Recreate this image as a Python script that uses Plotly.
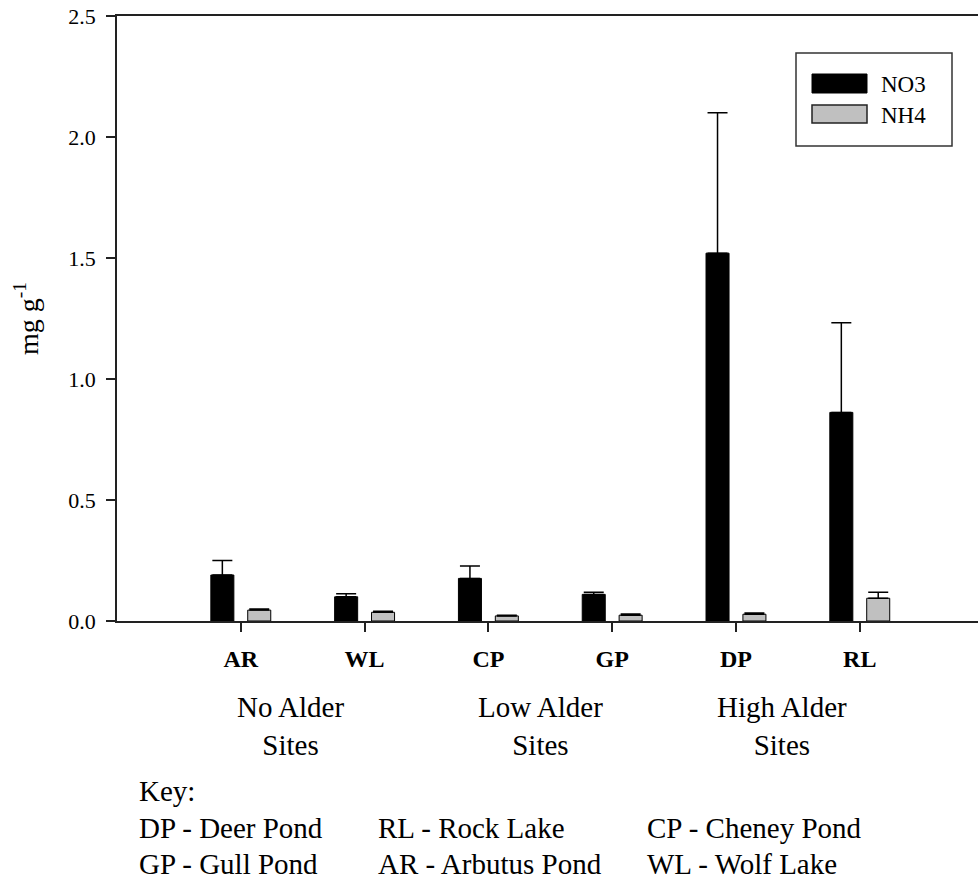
import plotly.graph_objects as go

# ---- data ----
sites = ["AR", "WL", "CP", "GP", "DP", "RL"]
no3_mean = [0.19, 0.100, 0.176, 0.110, 1.52, 0.862]
no3_err = [0.060, 0.013, 0.051, 0.009, 0.58, 0.370]
nh4_mean = [0.045, 0.036, 0.021, 0.024, 0.028, 0.094]
nh4_err = [0.005, 0.004, 0.003, 0.005, 0.005, 0.025]
series_names = ["NO3", "NH4"]
y_ticks = [0.0, 0.5, 1.0, 1.5, 2.0, 2.5]
group_labels = ["No Alder<br>Sites", "Low Alder<br>Sites", "High Alder<br>Sites"]
key_title = "Key:"
key_rows = [["DP - Deer Pond", "RL - Rock Lake", "CP - Cheney Pond"],
            ["GP - Gull Pond", "AR - Arbutus Pond", "WL - Wolf Lake"]]

W, H = 978, 883
L, R, T, B = 117, 0, 16, 262
FONT = "Liberation Serif, Times New Roman, Times, serif"
plot_w = W - L - R
plot_h = H - T - B


def px(x):
    return (x - L) / plot_w


def py(y):
    return (H - B - y) / plot_h


fig = go.Figure()
fig.add_trace(go.Bar(
    x=sites, y=no3_mean, name=series_names[0], showlegend=False,
    marker=dict(color="black", line=dict(color="black", width=1)),
    error_y=dict(type="data", array=no3_err, arrayminus=[0] * len(sites),
                 symmetric=False, color="black", thickness=1.5, width=10),
))
fig.add_trace(go.Bar(
    x=sites, y=nh4_mean, name=series_names[1], showlegend=False,
    marker=dict(color="#c0c0c0", line=dict(color="black", width=1)),
    error_y=dict(type="data", array=nh4_err, arrayminus=[0] * len(sites),
                 symmetric=False, color="black", thickness=1.5, width=10),
))

# legend box drawn manually
shapes = [
    dict(type="rect", xref="paper", yref="paper", x0=px(796), x1=px(952),
         y0=py(146), y1=py(53), line=dict(color="#333", width=1.5), fillcolor="white"),
    dict(type="rect", xref="paper", yref="paper", x0=px(812), x1=px(867),
         y0=py(93), y1=py(74), line=dict(color="black", width=1), fillcolor="black"),
    dict(type="rect", xref="paper", yref="paper", x0=px(812), x1=px(867),
         y0=py(123), y1=py(105), line=dict(color="#222", width=1.5), fillcolor="#c0c0c0"),
]
annotations = [
    dict(text=series_names[0], xref="paper", yref="paper", x=px(879), y=py(84),
         xanchor="left", yanchor="middle", showarrow=False,
         font=dict(family=FONT, size=23, color="black")),
    dict(text=series_names[1], xref="paper", yref="paper", x=px(879), y=py(115),
         xanchor="left", yanchor="middle", showarrow=False,
         font=dict(family=FONT, size=23, color="black")),
]
for lbl, cx in zip(group_labels, [290, 540, 782]):
    annotations.append(dict(text=lbl, xref="paper", yref="paper", x=px(cx), y=py(726),
                            xanchor="center", yanchor="middle", showarrow=False,
                            font=dict(family=FONT, size=29, color="black")))
annotations.append(dict(text=key_title, xref="paper", yref="paper", x=px(137), y=py(791),
                        xanchor="left", yanchor="middle", showarrow=False,
                        font=dict(family=FONT, size=29, color="black")))
col_x = [137, 376, 645]
row_y = [828, 864]
for r, row in enumerate(key_rows):
    for c, txt in enumerate(row):
        annotations.append(dict(text=txt, xref="paper", yref="paper", x=px(col_x[c]), y=py(row_y[r]),
                                xanchor="left", yanchor="middle", showarrow=False,
                                font=dict(family=FONT, size=29, color="black")))

fig.update_layout(
    width=W, height=H,
    margin=dict(l=L, r=R, t=T, b=B, pad=0),
    paper_bgcolor="white", plot_bgcolor="white",
    barmode="group", bargap=0.404, bargroupgap=0.376,
    font=dict(family=FONT, color="black"),
    shapes=shapes, annotations=annotations,
    showlegend=False,
)
fig.update_xaxes(
    range=[-1, 5.955], showline=True, linecolor="#222", linewidth=1.5, mirror=True,
    ticks="outside", ticklen=9, tickwidth=1.5, tickcolor="#222",
    tickfont=dict(family=FONT, size=24, color="black", weight="bold"),
    ticklabelstandoff=6, showgrid=False, zeroline=False,
)
fig.update_yaxes(
    range=[0, 2.5], tickvals=y_ticks, tickformat=".1f",
    showline=True, linecolor="#222", linewidth=1.5,
    ticks="outside", ticklen=9, tickwidth=1.5, tickcolor="#222",
    tickfont=dict(family=FONT, size=22, color="black"),
    ticklabelstandoff=6, showgrid=False, zeroline=False,
    title=dict(text="mg g<sup>-1</sup>", font=dict(family=FONT, size=28, color="black"), standoff=22),
)

fig.write_html("out.html", config={"displayModeBar": False},
               post_script="document.body.style.margin='0';document.body.style.padding='0';")
